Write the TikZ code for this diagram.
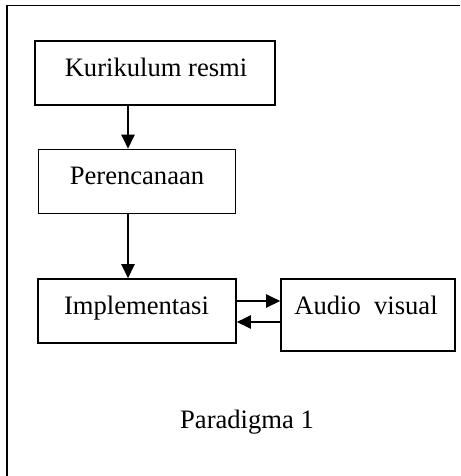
\documentclass[tikz,border=0pt]{standalone}
\usepackage{fontspec}
\setmainfont{Liberation Serif}
\usetikzlibrary{arrows.meta}
\begin{document}
\begin{tikzpicture}[x=1pt,y=-1pt,
  boxstyle/.style={draw,line width=1.6pt,inner sep=0pt},
  lbl/.style={anchor=base,inner sep=0pt,font=\fontsize{26.6}{30}\selectfont},
  arr/.style={line width=2.5pt,-{Triangle[length=14pt,width=13pt]}}]
\useasboundingbox (0,0) rectangle (460,476);
\clip (0,0) rectangle (460,476);
\draw[line width=1.8pt] (7,5.5) rectangle (520,540);
% boxes
\node[boxstyle,minimum width=240pt,minimum height=64pt] (b1) at (155,73) {};
\node[boxstyle,minimum width=197pt,minimum height=64pt] (b2) at (137,181.5) {};
\node[boxstyle,minimum width=198pt,minimum height=64pt] (b3) at (137,311) {};
\node[boxstyle,minimum width=174pt,minimum height=72pt] (b4) at (368,315) {};
% labels
\node[lbl] (t1) at (156,77) {Kurikulum resmi};
\node[lbl] (t2) at (137,184) {Perencanaan};
\node[lbl] (t3) at (136.5,314) {Implementasi};
\node[lbl] (t4) at (366,314) {Audio\ \ visual};
\node[lbl] (t5) at (247,428) {Paradigma 1};
% connectors
\coordinate (ax) at (128,0);
\coordinate (ay1) at (0,301);
\coordinate (ay2) at (0,322);
\draw[arr] (b1.south -| ax) -- (b2.north -| ax);
\draw[arr] (b2.south -| ax) -- (b3.north -| ax);
\draw[arr] (b3.east |- ay1) -- (b4.west |- ay1);
\draw[arr] (b4.west |- ay2) -- (b3.east |- ay2);
\end{tikzpicture}
\end{document}
